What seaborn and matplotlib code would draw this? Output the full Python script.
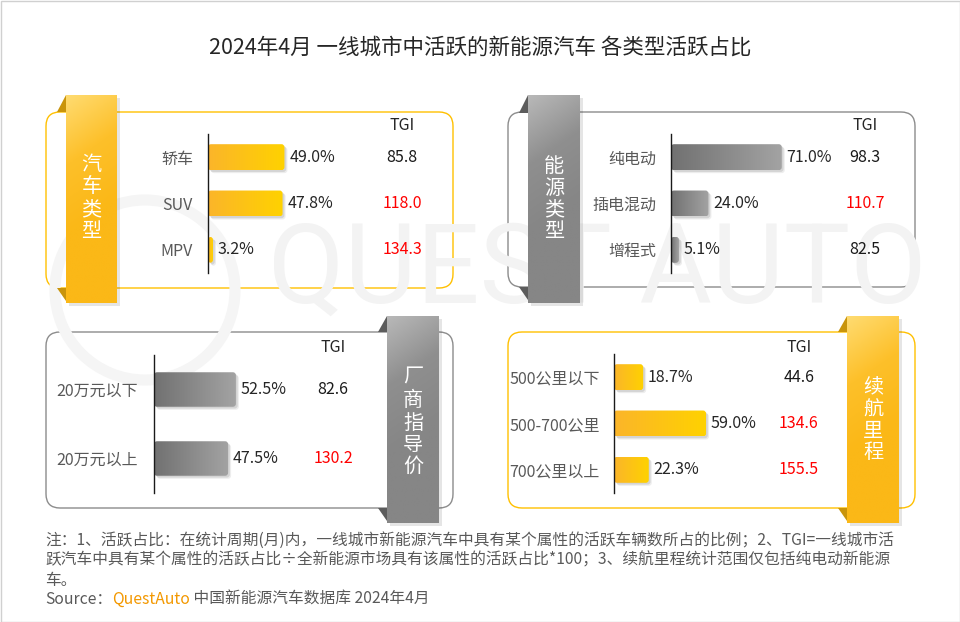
import numpy as np
import matplotlib
matplotlib.use("Agg")
import matplotlib.pyplot as plt
import seaborn as sns
from matplotlib import transforms
from matplotlib.patches import FancyBboxPatch, Polygon, Rectangle, Arc
from matplotlib.colors import LinearSegmentedColormap

# data
car_types = ["轿车", "SUV", "MPV"]
car_share = [49.0, 47.8, 3.2]
car_tgi = [85.8, 118.0, 134.3]

energy_types = ["纯电动", "插电混动", "增程式"]
energy_share = [71.0, 24.0, 5.1]
energy_tgi = [98.3, 110.7, 82.5]

price_bands = ["20万元以下", "20万元以上"]
price_share = [52.5, 47.5]
price_tgi = [82.6, 130.2]

range_bands = ["500公里以下", "500-700公里", "700公里以上"]
range_share = [18.7, 59.0, 22.3]
range_tgi = [44.6, 134.6, 155.5]

title = "2024年4月 一线城市中活跃的新能源汽车 各类型活跃占比"
notes = [
    "注：1、活跃占比：在统计周期(月)内，一线城市新能源汽车中具有某个属性的活跃车辆数所占的比例；2、TGI=一线城市活",
    "跃汽车中具有某个属性的活跃占比÷全新能源市场具有该属性的活跃占比*100；3、续航里程统计范围仅包括纯电动新能源",
    "车。",
]

sns.set_style("white")
plt.rcParams["font.family"] = ["Noto Sans CJK SC", "DejaVu Sans"]

W, H = 960, 622
PX = 1.56  # pixels per percent
fig = plt.figure(figsize=(9.6, 6.22), dpi=100)
fig.patch.set_facecolor("white")

bg = fig.add_axes([0, 0, 1, 1])
bg.set_xlim(0, W)
bg.set_ylim(H, 0)
bg.axis("off")

YELLOW = {"bar": LinearSegmentedColormap.from_list("yb", ["#FBB52A", "#FFD200"]),
          "rib": LinearSegmentedColormap.from_list("yr", ["#FFDB70", "#FDC02A", "#FBB817"]),
          "fold": "#C9940B", "edge": "#FFC000"}
GRAY = {"bar": LinearSegmentedColormap.from_list("gb", ["#717171", "#A3A3A3"]),
        "rib": LinearSegmentedColormap.from_list("gr", ["#B8B8B8", "#8F8F8F", "#868686"]),
        "fold": "#5C5C5C", "edge": "#8C8C8C"}


def px_axes(x0, y0, w, h):
    return fig.add_axes([x0 / W, 1 - (y0 + h) / H, w / W, h / H])


def draw_box(x0, y0, x1, y1, style):
    bg.add_patch(FancyBboxPatch((x0, y0), x1 - x0, y1 - y0,
                                boxstyle="round,pad=0,rounding_size=14",
                                fc="white", ec=style["edge"], lw=1.0, zorder=1))


def draw_ribbon(x0, x1, y0, y1, box_top, box_bot, chars, cy, style):
    w = x1 - x0
    # soft shadow on the right
    bg.add_patch(Rectangle((x0 + 3, y0 + 3), w, y1 - y0, fc="black", alpha=0.10, lw=0, zorder=3))
    bg.add_patch(Polygon([(x0, y0), (x0 - 9, box_top), (x0, box_top)], fc=style["fold"], lw=0, zorder=3))
    bg.add_patch(Polygon([(x0 - 9, box_bot), (x0, box_bot), (x0, box_bot + 13)], fc=style["fold"], lw=0, zorder=3))
    yy, xx = np.mgrid[0:1:100j, 0:1:30j]
    g = np.clip(yy * 1.5 + xx * 0.25, 0, 1)
    bg.imshow(g, extent=[x0, x1, y1, y0], aspect="auto", cmap=style["rib"],
              interpolation="bilinear", zorder=4)
    for ch, y in zip(chars, cy):
        bg.text((x0 + x1) / 2, y, ch, color="white", fontsize=14.5,
                ha="center", va="center", zorder=5)


def draw_panel(cats, share, tgi, ax_x, y_top, y_bot, label_right, tgi_x, header_y, bar_w, style):
    n = len(cats)
    ax = px_axes(ax_x, y_top, PX * 100, y_bot - y_top)
    ax.patch.set_alpha(0)
    sns.barplot(x=share, y=cats, orient="h", color="#FFC000", width=bar_w, ax=ax)
    ax.set_xlim(0, 100)
    ax.set_ylim(n - 0.5, -0.5)
    ppy = (y_bot - y_top) / n
    r = 3 / PX
    for p in list(ax.patches):
        x, y, w, h = p.get_x(), p.get_y(), p.get_width(), p.get_height()
        p.set_alpha(0)
        for off, a in [(3, 0.07), (1.8, 0.10)]:
            ax.add_patch(FancyBboxPatch((x + off / PX, y + off / ppy), w, h,
                                        boxstyle=f"round,pad=0,rounding_size={r}",
                                        mutation_aspect=PX / ppy, fc="black", alpha=a,
                                        lw=0, zorder=2))
        clip = FancyBboxPatch((x, y), w, h, boxstyle=f"round,pad=0,rounding_size={r}",
                              mutation_aspect=PX / ppy, fc="none", lw=0, zorder=3)
        ax.add_patch(clip)
        im = ax.imshow(np.linspace(0, 1, 256).reshape(1, -1), extent=[x, x + w, y + h, y],
                       aspect="auto", cmap=style["bar"], interpolation="bilinear", zorder=3)
        im.set_clip_path(clip)
    ax.set_xlim(0, 100)
    ax.set_ylim(n - 0.5, -0.5)
    ax.set_aspect("auto")
    ax.set_xticks([])
    ax.set_yticks(range(n))
    ax.set_yticklabels(cats)
    ax.tick_params(axis="y", length=0, pad=(ax_x - label_right) * 0.72,
                   labelsize=11.5, labelcolor="#595959")
    ax.set_xlabel("")
    ax.set_ylabel("")
    for s in ["top", "right", "bottom"]:
        ax.spines[s].set_visible(False)
    ax.spines["left"].set_color("#1a1a1a")
    ax.spines["left"].set_linewidth(1.0)
    ax.spines["left"].set_zorder(5)

    for i, v in enumerate(share):
        ax.annotate(f"{v:.1f}%", xy=(v, i), xytext=(3.5, 0), textcoords="offset points",
                    ha="left", va="center", fontsize=11.5, color="#262626")
    trans = transforms.blended_transform_factory(bg.transData, ax.transData)
    for i, t in enumerate(tgi):
        ax.text(tgi_x, i, f"{t:.1f}", transform=trans, ha="center", va="center",
                fontsize=11.5, color="#FF0000" if t > 100 else "#1a1a1a")
    bg.text(tgi_x, header_y, "TGI", ha="center", va="center", fontsize=11.5,
            color="#262626", zorder=5)


# frame
bg.add_patch(Rectangle((0.5, 0.5), W - 1, H - 1, fc="none", ec="#D0D0D0", lw=1, zorder=0))

bg.text(480, 48, title, ha="center", va="center", fontsize=15.5, color="#262626")

# panel boxes
draw_box(46, 112, 453, 288, YELLOW)
draw_box(508, 112, 915, 287, GRAY)
draw_box(46, 332, 453, 508, GRAY)
draw_box(508, 332, 915, 508, YELLOW)

# watermark
bg.text(597, 272, "QUEST AUTO", fontsize=80, color="#F3F3F3", family="Roboto",
        ha="center", va="center", zorder=2)
bg.add_patch(Arc((145, 290), 180, 180, theta1=0, theta2=360, lw=8, color="#F5F5F5", zorder=2))

# ribbons
draw_ribbon(66, 117, 95, 303, 112, 288, list("汽车类型"), [164, 187, 210, 232], YELLOW)
draw_ribbon(528, 580, 95, 303, 113, 287, list("能源类型"), [167, 188, 210, 232], GRAY)
draw_ribbon(387, 439, 316, 523, 332, 508, list("厂商指导价"), [377, 400, 423, 445, 466], GRAY)
draw_ribbon(847, 899, 316, 523, 332, 508, list("续航里程"), [388, 410, 431, 452], YELLOW)

# bar panels
draw_panel(car_types, car_share, car_tgi, 208, 134, 273, 193, 402, 125, 0.56, YELLOW)
draw_panel(energy_types, energy_share, energy_tgi, 671, 134, 273, 656, 865, 125, 0.56, GRAY)
draw_panel(price_bands, price_share, price_tgi, 154, 355, 493, 138, 333, 347, 0.5, GRAY)
draw_panel(range_bands, range_share, range_tgi, 614, 354, 493, 600, 799, 348, 0.56, YELLOW)

# notes
for k, line in enumerate(notes):
    bg.text(45, 540 + k * 20, line, fontsize=11.3, color="#595959", va="center")

renderer = fig.canvas.get_renderer()
x = 45
for part, col in [("Source：", "#595959"), ("QuestAuto", "#F39800"), (" 中国新能源汽车数据库 2024年4月", "#595959")]:
    t = bg.text(x, 599, part, fontsize=11.3, color=col, va="center")
    x += t.get_window_extent(renderer).width

fig.savefig("out.png", dpi=100)
